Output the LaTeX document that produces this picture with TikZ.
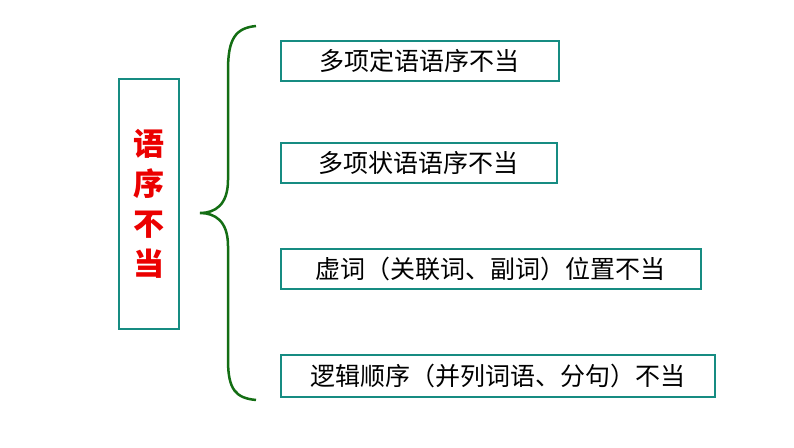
\documentclass[tikz,border=0pt]{standalone}
\usepackage{fontspec}
\newfontfamily\cjk{Noto Sans CJK SC}
\definecolor{teal2}{RGB}{22,140,130}
\definecolor{brgreen}{RGB}{20,110,20}
\definecolor{redt}{RGB}{235,0,0}
\tikzset{item/.style={draw=teal2,line width=1.6pt,anchor=north west,minimum height=40pt,inner sep=0pt,font=\cjk\fontsize{25}{25}\selectfont}}
\begin{document}
\begin{tikzpicture}[x=1pt,y=-1pt]
\useasboundingbox (0,0) rectangle (794,447);
\node[draw=teal2,line width=1.6pt,anchor=north west,minimum width=60pt,minimum height=250pt,inner sep=0pt,text=redt,font=\cjk\bfseries\fontsize{31}{40}\selectfont,align=center] (L) at (118,78) {语\\序\\不\\当};
\coordinate (tip) at (200,213);
\draw[brgreen,line width=2.5pt] (256,26) .. controls (236,28) and (228,38) .. (228,70) -- (228,180) .. controls (228,205) and (215,213) .. (tip) .. controls (215,213) and (228,221) .. (228,246) -- (228,360) .. controls (228,390) and (236,398) .. (256,400);
\node[item,minimum width=278pt] (a) at (280,40) {多项定语语序不当};
\node[item,minimum width=276pt] (b) at (280,142) {多项状语语序不当};
\node[item,minimum width=420pt] (c) at (280,248) {虚词（关联词、副词）位置不当};
\node[item,minimum width=434pt,minimum height=42pt] (d) at (280,354) {逻辑顺序（并列词语、分句）不当};
\end{tikzpicture}
\end{document}
